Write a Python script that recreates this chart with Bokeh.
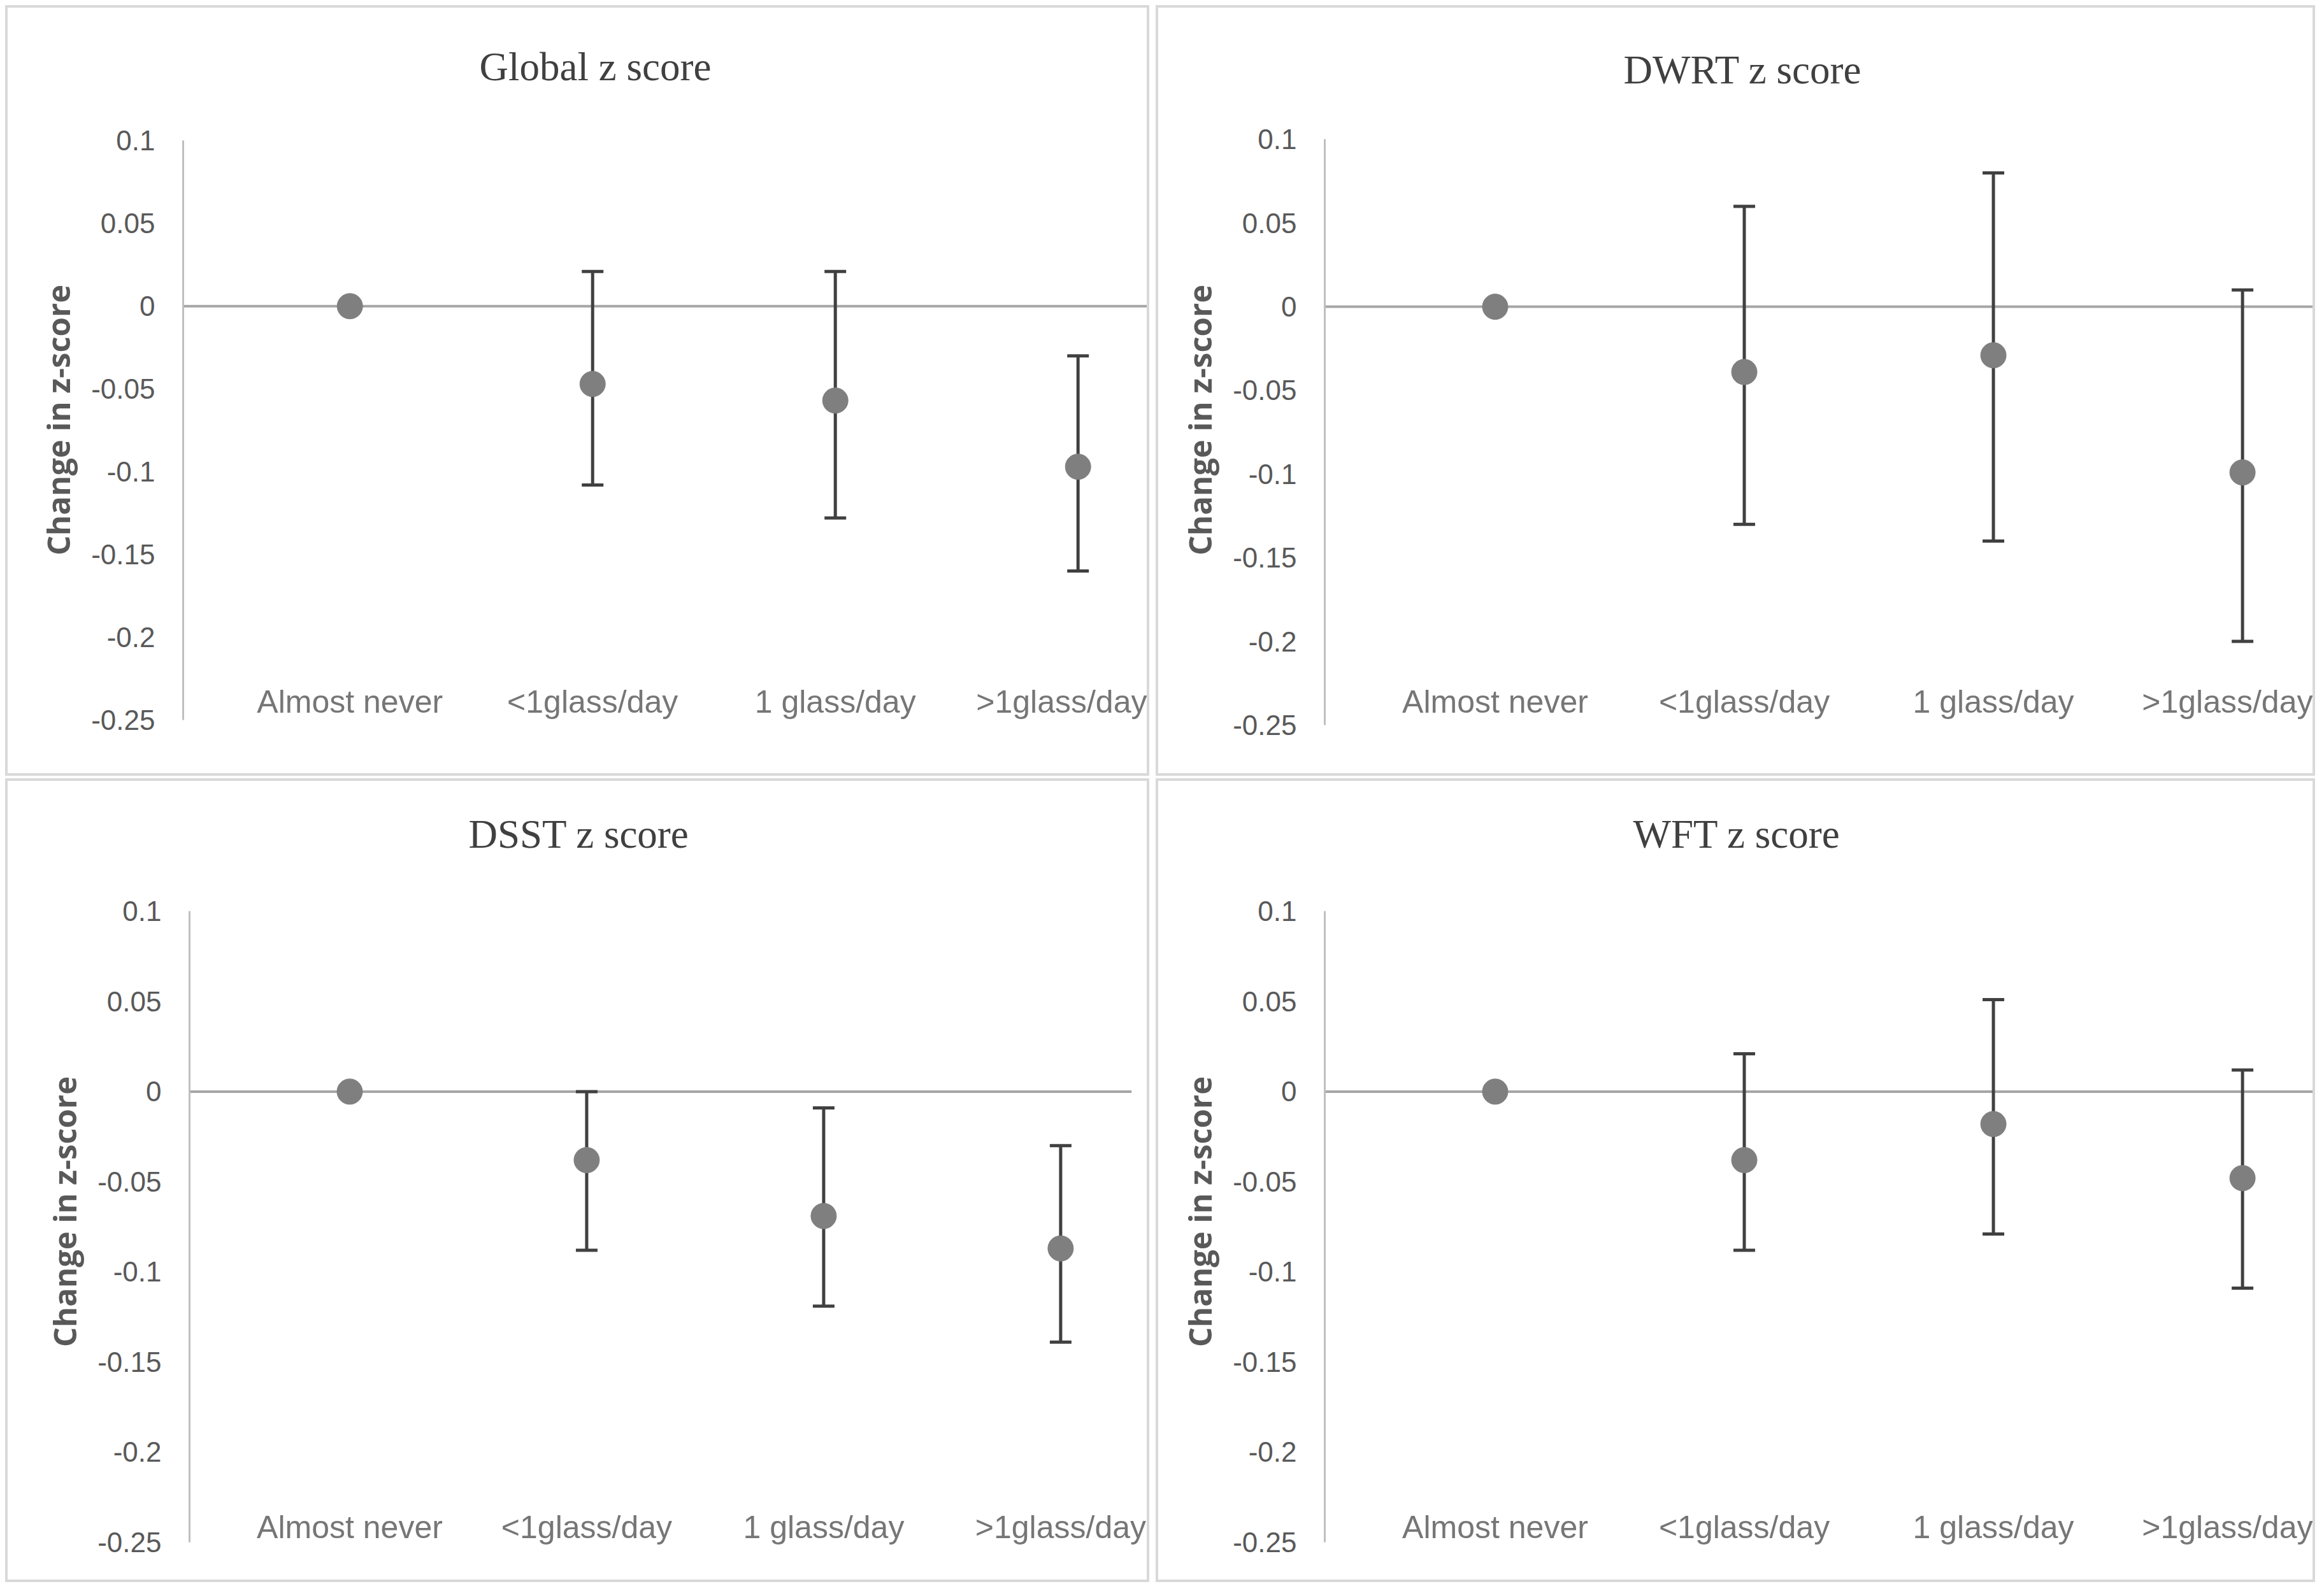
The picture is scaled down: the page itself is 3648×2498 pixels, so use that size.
from bokeh.plotting import figure
from bokeh.models import ColumnDataSource, Whisker, TeeHead, Span, FixedTicker, Range1d
from bokeh.layouts import row, column
from bokeh.embed import file_html
from bokeh.resources import INLINE

# ---------------- data ----------------
categories = ["Almost never", "<1glass/day", "1 glass/day", ">1glass/day"]
y_ticks = [0.1, 0.05, 0, -0.05, -0.1, -0.15, -0.2, -0.25]
y_tick_labels = ["0.1", "0.05", "0", "-0.05", "-0.1", "-0.15", "-0.2", "-0.25"]
y_axis_title = "Change in z-score"

titles = ["Global z score", "DWRT z score", "DSST z score", "WFT z score"]

global_mean = [0.0, -0.047, -0.057, -0.097]
global_lower = [None, -0.108, -0.128, -0.160]
global_upper = [None, 0.021, 0.021, -0.030]

dwrt_mean = [0.0, -0.039, -0.029, -0.099]
dwrt_lower = [None, -0.130, -0.140, -0.200]
dwrt_upper = [None, 0.060, 0.080, 0.010]

dsst_mean = [0.0, -0.038, -0.069, -0.087]
dsst_lower = [None, -0.088, -0.119, -0.139]
dsst_upper = [None, 0.0, -0.009, -0.030]

wft_mean = [0.0, -0.038, -0.018, -0.048]
wft_lower = [None, -0.088, -0.079, -0.109]
wft_upper = [None, 0.021, 0.051, 0.012]

series = [
    (global_mean, global_lower, global_upper),
    (dwrt_mean, dwrt_lower, dwrt_upper),
    (dsst_mean, dsst_lower, dsst_upper),
    (wft_mean, wft_lower, wft_upper),
]

Y_MIN, Y_MAX = -0.25, 0.1

# ---------------- layout (pixels, inside each bordered panel) ----------------
# ax_top / ax_bot: pixel rows of the 0.1 and -0.25 ticks; bt / bb: frame borders
panels = [
    dict(w=1796, h=1210, bl=275, br=2, bt=162, bb=78, ax_top=208, ax_bot=1110,
         x0=0.313, x1=4.30, toff=465, tso=70, xso=-71),
    dict(w=1820, h=1210, bl=261, br=5, bt=162, bb=78, ax_top=206, ax_bot=1118,
         x0=0.316, x1=4.29, toff=469, tso=60, xso=-71),
    dict(w=1796, h=1262, bl=285, br=32, bt=153, bb=63, ax_top=204, ax_bot=1187,
         x0=0.324, x1=4.30, toff=438, tso=70, xso=-56),
    dict(w=1820, h=1262, bl=261, br=5, bt=153, bb=63, ax_top=204, ax_bot=1187,
         x0=0.316, x1=4.29, toff=484, tso=70, xso=-56),
]

BORDER = "#d9d9d9"
TICK_COLOR = "#595959"
CAT_COLOR = "#767676"
DOT_COLOR = "#7f7f7f"
BAR_COLOR = "#404040"

figs = []
for title, (mean, lower, upper), cfg in zip(titles, series, panels):
    xs = list(range(1, len(categories) + 1))
    inner_h = cfg["h"] - 8
    frame_top = cfg["bt"]
    frame_bot = inner_h - cfg["bb"]
    ppu = (cfg["ax_bot"] - cfg["ax_top"]) / (Y_MAX - Y_MIN)
    y_end = Y_MAX + (cfg["ax_top"] - frame_top) / ppu
    y_start = Y_MIN - (frame_bot - cfg["ax_bot"]) / ppu
    p = figure(width=cfg["w"], height=cfg["h"], output_backend="svg", toolbar_location=None,
               x_range=Range1d(cfg["x0"], cfg["x1"]), y_range=Range1d(y_start, y_end),
               min_border_left=cfg["bl"], min_border_right=cfg["br"],
               min_border_top=cfg["bt"], min_border_bottom=cfg["bb"])
    p.styles = {"border": f"4px solid {BORDER}", "box-sizing": "border-box"}
    p.outline_line_color = None
    p.xgrid.visible = False
    p.ygrid.visible = False
    p.background_fill_color = "white"
    p.border_fill_color = "white"

    p.title.text = title
    p.title.text_font = "Liberation Serif"
    p.title.text_font_size = "63px"
    p.title.text_font_style = "normal"
    p.title.text_color = "#404040"
    p.title.align = "left"
    p.title.offset = cfg["toff"]
    p.title.standoff = cfg["tso"]

    # y axis
    yax = p.yaxis[0]
    yax.bounds = (Y_MIN, Y_MAX)
    yax.ticker = FixedTicker(ticks=y_ticks)
    yax.major_label_overrides = {t: l for t, l in zip(y_ticks, y_tick_labels)}
    yax.major_tick_out = 0
    yax.major_tick_in = 0
    yax.minor_tick_out = 0
    yax.minor_tick_in = 0
    yax.axis_line_color = "#bfbfbf"
    yax.axis_line_width = 3
    yax.major_label_text_font = "Liberation Sans"
    yax.major_label_text_font_size = "44px"
    yax.major_label_text_color = TICK_COLOR
    yax.major_label_standoff = 44
    yax.axis_label = y_axis_title
    yax.axis_label_text_font = "Open Sans"
    yax.axis_label_text_font_size = "49px"
    yax.axis_label_text_font_style = "bold"
    yax.axis_label_text_color = TICK_COLOR
    yax.axis_label_standoff = 16

    # x axis (category labels sit just above the bottom of the plot)
    xax = p.xaxis[0]
    xax.ticker = FixedTicker(ticks=xs)
    xax.major_label_overrides = {x: c for x, c in zip(xs, categories)}
    xax.axis_line_color = None
    xax.major_tick_out = 0
    xax.major_tick_in = 0
    xax.minor_tick_out = 0
    xax.minor_tick_in = 0
    xax.major_label_text_font = "Liberation Sans"
    xax.major_label_text_font_size = "50px"
    xax.major_label_text_color = CAT_COLOR
    xax.major_label_standoff = cfg["xso"]

    zero = Span(location=0, dimension="width", line_color="#a6a6a6", line_width=4, level="underlay")
    p.add_layout(zero)

    ex = [x for x, lo in zip(xs, lower) if lo is not None]
    elo = [lo for lo in lower if lo is not None]
    eup = [up for up in upper if up is not None]
    esrc = ColumnDataSource(dict(x=ex, lower=elo, upper=eup))
    w = Whisker(base="x", lower="lower", upper="upper", source=esrc,
                line_color=BAR_COLOR, line_width=5, level="underlay",
                upper_head=TeeHead(size=34, line_color=BAR_COLOR, line_width=5),
                lower_head=TeeHead(size=34, line_color=BAR_COLOR, line_width=5))
    p.add_layout(w)

    src = ColumnDataSource(dict(x=xs, y=mean))
    p.scatter("x", "y", source=src, size=40, fill_color=DOT_COLOR, line_color=DOT_COLOR)
    figs.append(p)

layout = column(
    row(figs[0], figs[1], spacing=10),
    row(figs[2], figs[3], spacing=10),
    spacing=4,
)
layout.styles = {"margin-left": "8px", "margin-top": "8px"}

open("out.html", "w").write(file_html(layout, INLINE))
